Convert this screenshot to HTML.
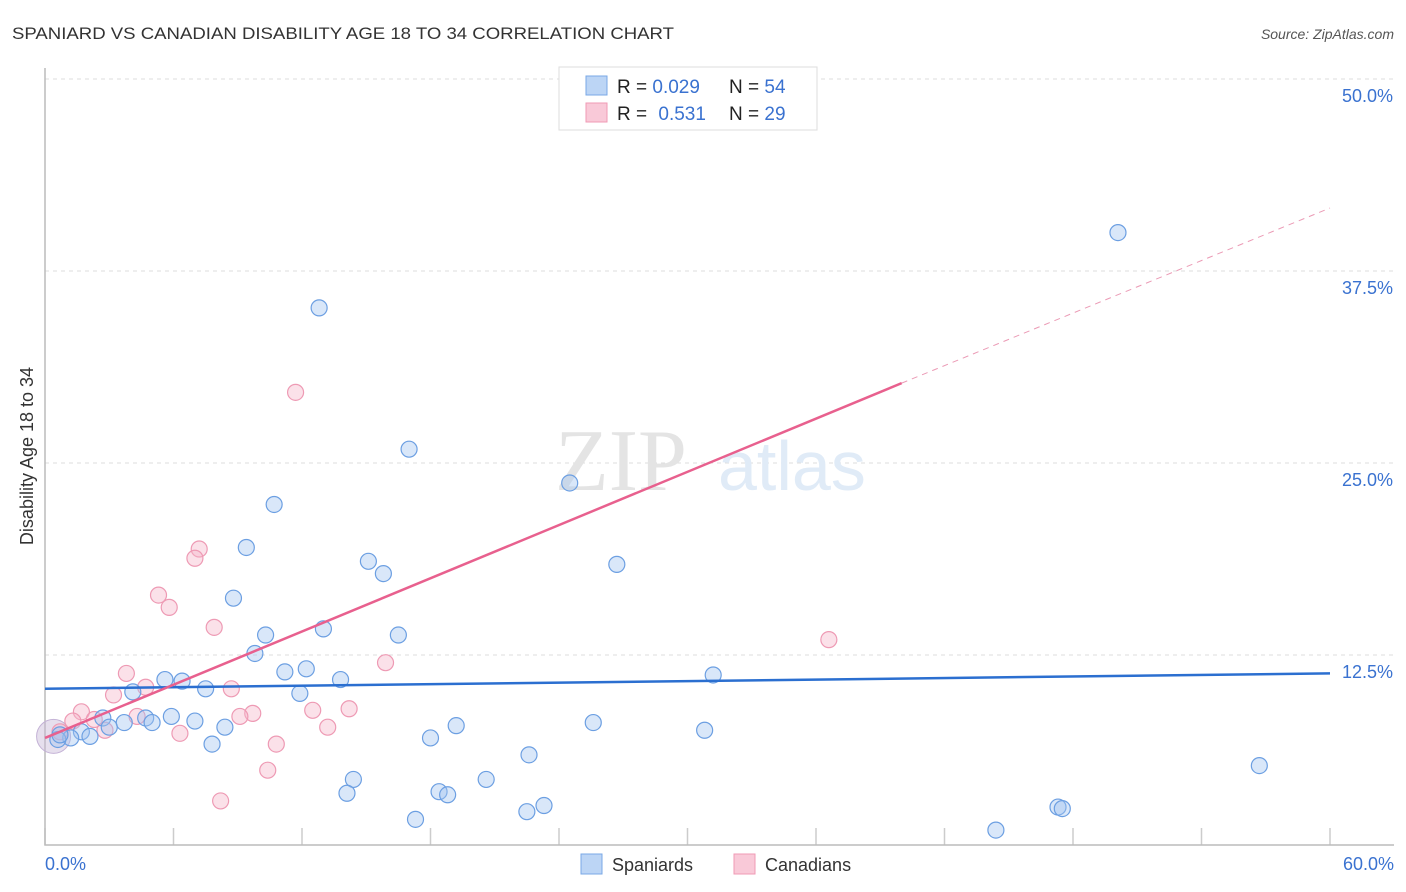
<!DOCTYPE html>
<html><head><meta charset="utf-8"><style>
body{margin:0;background:#fff;font-family:"Liberation Sans",sans-serif;}
svg{display:block}
</style></head><body>
<svg id="chart" width="1406" height="892" xmlns="http://www.w3.org/2000/svg" font-family="Liberation Sans, sans-serif">
<text x="12" y="39" font-size="17" fill="#333" textLength="662" lengthAdjust="spacingAndGlyphs">SPANIARD VS CANADIAN DISABILITY AGE 18 TO 34 CORRELATION CHART</text>
<text x="1394" y="39" font-size="14" fill="#555" font-style="italic" text-anchor="end">Source: ZipAtlas.com</text>
<g id="grid"></g>
<text x="555" y="490" font-size="88" fill="#e4e4e4" font-family="Liberation Serif, serif">ZIP</text>
<text x="718" y="490" font-size="70" fill="#e0ebf7">atlas</text>
<g id="pts"></g>
<g id="lines"></g>
<text transform="translate(33,456) rotate(-90)" font-size="18" fill="#333" text-anchor="middle">Disability Age 18 to 34</text>
<text x="45" y="870" font-size="18" fill="#3a72d0">0.0%</text>
<text x="1394" y="870" font-size="18" fill="#3a72d0" text-anchor="end">60.0%</text>
<g>
<rect x="559" y="67" width="258" height="63" fill="#fff" stroke="#ddd"/>
<rect x="586" y="76" width="21" height="19" fill="#bcd5f5" stroke="#7aa8e6"/>
<rect x="586" y="103" width="21" height="19" fill="#f9c9d8" stroke="#f09ab5"/>
<text x="617" y="93" font-size="19" fill="#222">R = <tspan fill="#3a72d0">0.029</tspan></text>
<text x="729" y="93" font-size="19" fill="#222">N = <tspan fill="#3a72d0">54</tspan></text>
<text x="617" y="120" font-size="19" fill="#222">R = <tspan fill="#3a72d0" dx="6">0.531</tspan></text>
<text x="729" y="120" font-size="19" fill="#222">N = <tspan fill="#3a72d0">29</tspan></text>
</g>
<g>
<rect x="581" y="854" width="21" height="20" fill="#bcd5f5" stroke="#7aa8e6"/>
<text x="612" y="871" font-size="18" fill="#333">Spaniards</text>
</g>
<g>
<rect x="734" y="854" width="21" height="20" fill="#f9c9d8" stroke="#f09ab5"/>
<text x="765" y="871" font-size="18" fill="#333">Canadians</text>
</g>
</svg>
<script>
const NS="http://www.w3.org/2000/svg";
const yTicks=[12.5,25,37.5,50];
const yTickLabels=["12.5%","25.0%","37.5%","50.0%"];
const xTicks=[0,6,12,18,24,30,36,42,48,54,60];
const blueX=[12.8,17.0,50.1,24.5,10.7,9.4,15.1,15.8,26.7,8.8,13.0,10.3,16.5,9.8,11.2,12.2,13.8,31.2,5.6,6.4,7.5,4.1,11.9,19.2,25.6,30.8,18.0,4.7,5.9,2.7,3.7,5.0,7.0,8.4,3.0,1.7,2.1,1.2,0.6,7.8,22.6,14.4,20.6,56.7,14.1,18.4,18.8,23.3,22.5,17.3,44.4,47.3,47.5,0.7];
const blueY=[35.1,25.9,40.0,23.7,22.3,19.5,18.6,17.8,18.4,16.2,14.2,13.8,13.8,12.6,11.4,11.6,10.9,11.2,10.9,10.8,10.3,10.1,10.0,7.9,8.1,7.6,7.1,8.4,8.5,8.4,8.1,8.1,8.2,7.8,7.8,7.5,7.2,7.1,7.0,6.7,6.0,4.4,4.4,5.3,3.5,3.6,3.4,2.7,2.3,1.8,1.1,2.6,2.5,7.3];
const pinkX=[32.5,11.7,7.2,7.0,5.3,5.8,7.9,36.6,15.9,3.8,8.7,4.7,3.2,12.5,14.2,9.7,9.1,4.3,1.7,1.3,2.3,2.8,13.2,6.3,10.8,10.4,8.2,0.7];
const pinkY=[50.0,29.6,19.4,18.8,16.4,15.6,14.3,13.5,12.0,11.3,10.3,10.4,9.9,8.9,9.0,8.7,8.5,8.5,8.8,8.2,8.3,7.6,7.8,7.4,6.7,5.0,3.0,7.5];
const blueTrend=[[0,10.3],[60,11.3]];
const pinkTrend=[[0,7.1],[40,30.2],[60,41.6]];
const X=v=>45+v/60*1285, Y=v=>847-v*15.36;
const grid=document.getElementById('grid'),pts=document.getElementById('pts'),lines=document.getElementById('lines');
function mk(tag,a,p){const e=document.createElementNS(NS,tag);for(const k in a)e.setAttribute(k,a[k]);p.appendChild(e);return e;}
yTicks.forEach((t,i)=>{
 const l=mk('line',{x1:45,x2:1394,y1:Y(t),y2:Y(t),stroke:'#ddd','stroke-dasharray':'4,4'},grid);
 
 
 const tx=mk('text',{x:1393,y:Y(t)+23,'font-size':18,fill:'#3a72d0','text-anchor':'end'},grid);
 tx.textContent=yTickLabels[i];
 
 
});
xTicks.forEach(t=>{
 const l=mk('line',{x1:X(t),x2:X(t),y1:828,y2:845,stroke:'#ccc','stroke-width':1.5},grid);
 
 
});
const ax=mk('path',{d:'M45 68 V845 H1394',fill:'none',stroke:'#bbb','stroke-width':1.5},grid);


const big=mk('circle',{cx:X(0.4),cy:Y(7.2),r:17,fill:'rgba(200,185,215,0.45)',stroke:'#c4b2d6'},pts);


pinkX.forEach((x,i)=>{
 const c=mk('circle',{cx:X(x),cy:Y(pinkY[i]),r:8,fill:'rgba(246,180,200,0.4)',stroke:'#ee9ab4','stroke-width':1.2},pts);
 
 
});
blueX.forEach((x,i)=>{
 const c=mk('circle',{cx:X(x),cy:Y(blueY[i]),r:8,fill:'rgba(160,195,240,0.4)',stroke:'#6c9fe2','stroke-width':1.2},pts);
 
 
});
const bl=mk('line',{x1:X(blueTrend[0][0]),y1:Y(blueTrend[0][1]),x2:X(blueTrend[1][0]),y2:Y(blueTrend[1][1]),stroke:'#2b6fd0','stroke-width':2.5},lines);


const pl=mk('line',{x1:X(pinkTrend[0][0]),y1:Y(pinkTrend[0][1]),x2:X(pinkTrend[1][0]),y2:Y(pinkTrend[1][1]),stroke:'#e8608e','stroke-width':2.5},lines);


const pd=mk('line',{x1:X(pinkTrend[1][0]),y1:Y(pinkTrend[1][1]),x2:X(pinkTrend[2][0]),y2:Y(pinkTrend[2][1]),stroke:'#eb9ab5','stroke-width':1,'stroke-dasharray':'6,5'},lines);


</script>
</body></html>
